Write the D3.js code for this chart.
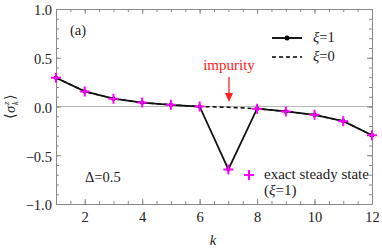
<!DOCTYPE html>
<html><head><meta charset="utf-8">
<script src="https://cdn.jsdelivr.net/npm/d3@7"></script>
<style>body{margin:0;background:#fff}svg{display:block}svg text{font-family:'Liberation Serif','Times New Roman','DejaVu Serif',serif !important}</style>
</head><body><svg id="c" width="382" height="250" font-family="Liberation Serif, Times New Roman, serif"></svg>
<script>
const ks = [1,2,3,4,5,6,7,8,9,10,11,12];
const xi1 = [0.295,0.155,0.08,0.04,0.017,0.0,-0.645,-0.022,-0.05,-0.085,-0.15,-0.295];
const xi0 = [0.295,0.155,0.08,0.04,0.017,0.0,-0.008,-0.022,-0.05,-0.085,-0.15,-0.295];
const exact = [0.295,0.155,0.08,0.04,0.017,0.0,-0.645,-0.022,-0.05,-0.085,-0.15,-0.295];
const xTicks = [2,4,6,8,10,12];
const yTicks = [-1.0,-0.5,0.0,0.5,1.0];

const SERIF = "Liberation Serif, Times New Roman, serif";
const FS = 14.5;
const svg = d3.select("#c");
const x = d3.scaleLinear().domain([1,12]).range([56,372]);
const y = d3.scaleLinear().domain([-1,1]).range([204,9]);
const fmt = d => (d<0?"\u2212":"") + Math.abs(d).toFixed(1);
const frameCol = "#8a8a8a";

// zero line
svg.append("line").attr("x1",x(1)).attr("x2",x(12)).attr("y1",y(0)).attr("y2",y(0))
  .attr("stroke","#b8b8b8").attr("stroke-width",1);

// axes (inward ticks)
const minorX = d3.range(1,12.01,0.5);
const minorY = d3.range(-1,1.001,0.1);
function ax(g, axis){ g.call(axis); g.attr("font-family",SERIF); g.select(".domain").attr("stroke",frameCol); g.selectAll(".tick line").attr("stroke",frameCol); }
svg.append("g").attr("transform",`translate(0,${y(-1)})`)
  .call(g=>ax(g,d3.axisBottom(x).tickValues(minorX).tickSize(-3).tickSizeOuter(0).tickFormat("")));
svg.append("g").attr("transform",`translate(0,${y(-1)})`)
  .call(g=>ax(g,d3.axisBottom(x).tickValues(xTicks).tickSize(-5).tickSizeOuter(0).tickPadding(8).tickFormat(d=>d)))
  .selectAll("text").attr("font-size",FS).attr("fill","#222").attr("font-family",SERIF);
svg.append("g").attr("transform",`translate(0,${y(1)})`)
  .call(g=>ax(g,d3.axisTop(x).tickValues(minorX).tickSize(-3).tickSizeOuter(0).tickFormat("")));
svg.append("g").attr("transform",`translate(0,${y(1)})`)
  .call(g=>ax(g,d3.axisTop(x).tickValues(xTicks).tickSize(-5).tickSizeOuter(0).tickFormat("")));
svg.append("g").attr("transform",`translate(${x(1)},0)`)
  .call(g=>ax(g,d3.axisLeft(y).tickValues(minorY).tickSize(-3).tickSizeOuter(0).tickFormat("")));
svg.append("g").attr("transform",`translate(${x(1)},0)`)
  .call(g=>ax(g,d3.axisLeft(y).tickValues(yTicks).tickSize(-5).tickSizeOuter(0).tickPadding(4).tickFormat(fmt)))
  .selectAll("text").attr("font-size",FS).attr("fill","#222").attr("font-family",SERIF).attr("dy","0.4em");
svg.append("g").attr("transform",`translate(${x(12)},0)`)
  .call(g=>ax(g,d3.axisRight(y).tickValues(minorY).tickSize(-3).tickSizeOuter(0).tickFormat("")));
svg.append("g").attr("transform",`translate(${x(12)},0)`)
  .call(g=>ax(g,d3.axisRight(y).tickValues(yTicks).tickSize(-5).tickSizeOuter(0).tickFormat("")));

// lines
const line = d3.line().x((d,i)=>x(ks[i])).y(d=>y(d));
svg.append("path").datum(xi0).attr("d",line).attr("fill","none").attr("stroke","#000")
  .attr("stroke-width",1.5).attr("stroke-dasharray","4,3");
svg.append("path").datum(xi1).attr("d",line).attr("fill","none").attr("stroke","#111")
  .attr("stroke-width",1.8);
svg.selectAll(".dot").data(xi1).enter().append("circle")
  .attr("cx",(d,i)=>x(ks[i])).attr("cy",d=>y(d)).attr("r",2.2).attr("fill","#000");

// exact crosses
const cross = (cx,cy)=>`M${cx-5},${cy}H${cx+5}M${cx},${cy-5}V${cy+5}`;
svg.append("path").attr("d",exact.map((d,i)=>cross(x(ks[i]),y(d))).join(""))
  .attr("stroke","#ff00ff").attr("stroke-width",2).attr("fill","none");

// legend
svg.append("line").attr("x1",272).attr("x2",302).attr("y1",38).attr("y2",38).attr("stroke","#000").attr("stroke-width",1.8);
svg.append("circle").attr("cx",287).attr("cy",38).attr("r",2.5).attr("fill","#000");
svg.append("line").attr("x1",272).attr("x2",302).attr("y1",57).attr("y2",57).attr("stroke","#000").attr("stroke-width",1.5).attr("stroke-dasharray","4,3");
const lt = svg.append("text").attr("x",313).attr("y",42).attr("font-size",FS).attr("fill","#222");
lt.append("tspan").attr("font-style","italic").text("\u03be"); lt.append("tspan").text("=1");
const lt2 = svg.append("text").attr("x",313).attr("y",61).attr("font-size",FS).attr("fill","#222");
lt2.append("tspan").attr("font-style","italic").text("\u03be"); lt2.append("tspan").text("=0");

svg.append("path").attr("d",cross(249,175)).attr("stroke","#ff00ff").attr("stroke-width",2);
svg.append("text").attr("x",264).attr("y",179).attr("font-size",FS+0.5).attr("fill","#222").text("exact steady state");
const et = svg.append("text").attr("x",264).attr("y",195).attr("font-size",FS+0.5).attr("fill","#222");
et.append("tspan").text("("); et.append("tspan").attr("font-style","italic").text("\u03be"); et.append("tspan").text("=1)");

// impurity annotation
svg.append("text").attr("x",229).attr("y",70).attr("text-anchor","middle").attr("font-size",FS+0.5).attr("fill","#ff2020").text("impurity");
svg.append("line").attr("x1",229).attr("x2",229).attr("y1",77).attr("y2",95).attr("stroke","#ff2020").attr("stroke-width",1.3);
svg.append("path").attr("d","M225,93L233,93L229,102Z").attr("fill","#ff2020");

// labels
svg.append("text").attr("x",70).attr("y",35).attr("font-size",FS).attr("fill","#222").text("(a)");
svg.append("text").attr("x",85).attr("y",182).attr("font-size",FS).attr("fill","#222").text("\u0394=0.5");
svg.append("text").attr("x",213).attr("y",245).attr("text-anchor","middle").attr("font-size",FS).attr("font-style","italic").attr("fill","#222").text("k");
const yg = svg.append("g").attr("transform","translate(15,106) rotate(-90)");
yg.append("text").attr("x",-13).attr("y",0).attr("font-size",FS).attr("fill","#222").text("\u27e8");
yg.append("text").attr("x",-7).attr("y",0).attr("font-size",FS).attr("font-style","italic").attr("fill","#222").text("\u03c3");
yg.append("text").attr("x",1).attr("y",-6).attr("font-size",8.5).attr("font-style","italic").attr("fill","#222").text("z");
yg.append("text").attr("x",1).attr("y",3).attr("font-size",8.5).attr("font-style","italic").attr("fill","#222").text("k");
yg.append("text").attr("x",6).attr("y",0).attr("font-size",FS).attr("fill","#222").text("\u27e9");
</script></body></html>
